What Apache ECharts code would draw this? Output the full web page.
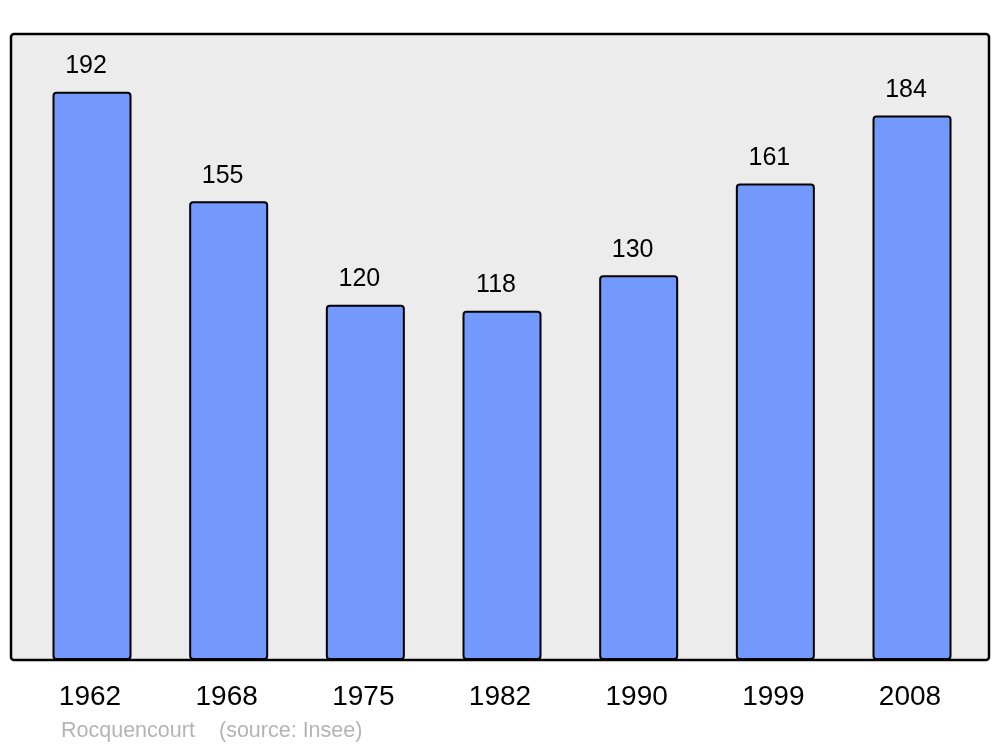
<!DOCTYPE html>
<html>
<head>
<meta charset="utf-8">
<script src="https://cdn.jsdelivr.net/npm/echarts@6/dist/echarts.min.js"></script>
<style>html,body{margin:0;padding:0;background:#fff}#c{width:1000px;height:747px}</style>
</head>
<body>
<div id="c"></div>
<script>
const years = ['1962', '1968', '1975', '1982', '1990', '1999', '2008'];
const population = [192, 155, 120, 118, 130, 161, 184];
const footerName = 'Rocquencourt';
const footerSource = '(source: Insee)';

const chart = echarts.init(document.getElementById('c'), null, {renderer: 'canvas'});
chart.setOption({
  animation: false,
  backgroundColor: '#ffffff',
  graphic: [
    {type: 'rect', z: -10, shape: {x: 11, y: 34, width: 978, height: 626, r: 3},
     style: {fill: '#ececec', stroke: '#000', lineWidth: 2.5}},
    {type: 'text', left: 61, top: 720,
     style: {text: footerName, fill: '#b4b4b4', font: '21.5px "Liberation Sans", Arial, sans-serif'}},
    {type: 'text', left: 219, top: 720,
     style: {text: footerSource, fill: '#b4b4b4', font: '21.5px "Liberation Sans", Arial, sans-serif'}}
  ],
  grid: {left: 23.67, top: 34, width: 956.67, height: 626, containLabel: false},
  xAxis: {
    type: 'category', data: years,
    axisLine: {show: false}, axisTick: {show: false},
    axisLabel: {color: '#000', fontSize: 28, fontFamily: '"Liberation Sans", Arial, sans-serif',
                margin: 23, padding: [0, 4, 0, 0]}
  },
  yAxis: {type: 'value', min: 0, max: 211.5, show: false, splitLine: {show: false}},
  series: [{
    type: 'bar', data: population, barWidth: 79,
    itemStyle: {color: '#7399ff', borderColor: '#000', borderWidth: 2, borderRadius: 3},
    label: {show: true, position: 'top', distance: 13, offset: [-6, 0], color: '#000', fontSize: 25,
            fontFamily: '"Liberation Sans", Arial, sans-serif'}
  }]
});
</script>
</body>
</html>
